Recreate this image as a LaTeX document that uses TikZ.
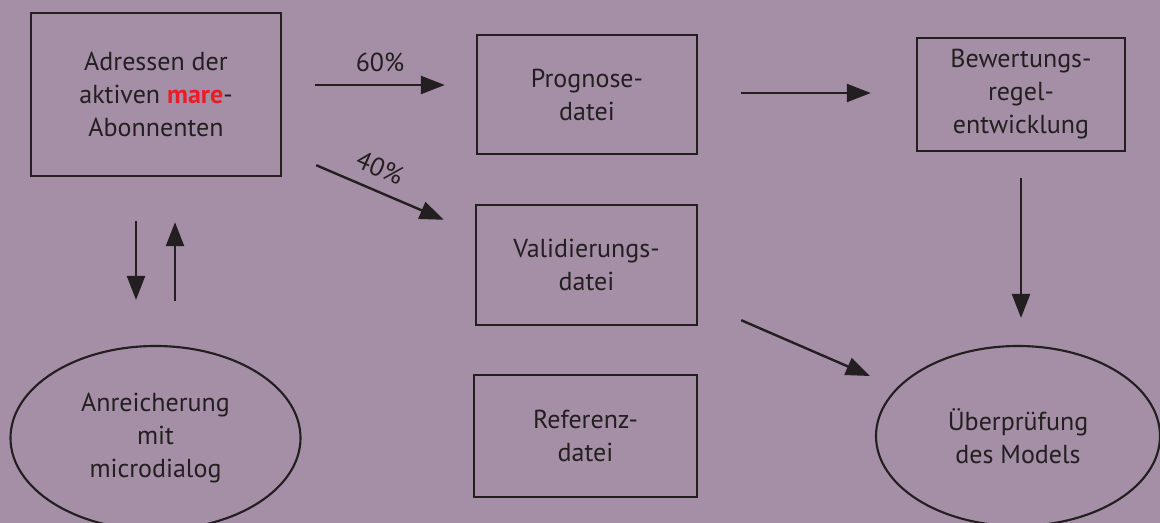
\documentclass[tikz,border=0pt]{standalone}
\usepackage{fontspec}
\setmainfont{PT Sans}
\usetikzlibrary{shapes.geometric,arrows.meta,calc}
\definecolor{bgpurple}{RGB}{165,143,166}
\definecolor{ink}{RGB}{35,31,32}
\definecolor{marered}{RGB}{237,28,36}
\begin{document}
\begin{tikzpicture}[x=0.75pt,y=-0.75pt,
  every node/.style={text=ink,font=\fontsize{19.5}{24.75}\selectfont,align=center,inner sep=0pt},
  filebox/.style={draw=ink,line width=1.8pt,rectangle},
  bubble/.style={draw=ink,line width=1.6pt,ellipse},
  arr/.style={draw=ink,line width=1.8pt,-{Triangle[length=18pt,width=13.5pt]}},
  pct/.style={font=\fontsize{19.5}{24}\selectfont}]
  % canvas
  \fill[bgpurple] (0,0) rectangle (1160,523);
  \useasboundingbox (0,0) rectangle (1160,523);

  % data sources and files
  \node[filebox,minimum width=187.5pt,minimum height=122.25pt] (adr) at (156,94.5)
    {Adressen der\\aktiven \textcolor{marered}{\textbf{mare}}-\\Abonnenten};
  \node[filebox,minimum width=165pt,minimum height=89.25pt] (prog) at (587,94.5)
    {Prognose-\\datei};
  \node[filebox,minimum width=156pt,minimum height=84.75pt] (bew) at (1021,94.5)
    {Bewertungs-\\regel-\\entwicklung};
  \node[filebox,minimum width=165.75pt,minimum height=90pt] (val) at (586.5,265)
    {Validierungs-\\datei};
  \node[filebox,minimum width=167.25pt,minimum height=91.5pt] (ref) at (585.5,436)
    {Referenz-\\datei};

  % processing steps
  \node[bubble,minimum width=217.5pt,minimum height=138pt] (anr) at (155.5,438)
    {Anreicherung\\mit\\microdialog};
  \node[bubble,minimum width=213pt,minimum height=135pt] (ueb) at (1018,436)
    {Überprüfung\\des Models};

  % split of the address file
  \draw[arr] ($(adr.east)+(33,-9.5)$) -- ($(prog.west)+(-31,-9.5)$)
    node[pct,midway,above=9pt] {60\%};
  \draw[arr] ($(adr.south east)+(34,-12)$) -- ($(val.north west)+(-31,16)$);
  \node[pct,rotate=-24] (p40) at (380,168) {40\%};

  % model building and checking
  \draw[arr] ($(prog.east)+(43,-1.5)$) -- ($(bew.west)+(-45,-1.5)$);
  \draw[arr] ($(bew.south)+(0,26)$) -- ($(bew.south |- ueb.north)+(0,-27)$);
  \draw[arr] ($(val.south east)+(43,-6)$) -- ($(ueb.west)+(-5,-60)$);

  % enrichment round trip
  \draw[arr] ($(adr.south)+(-20,44)$) -- ($(adr.south |- anr.north)+(-20,-45)$);
  \draw[arr] ($(adr.south |- anr.north)+(19,-44)$) -- ($(adr.south)+(19,45)$);
\end{tikzpicture}
\end{document}
